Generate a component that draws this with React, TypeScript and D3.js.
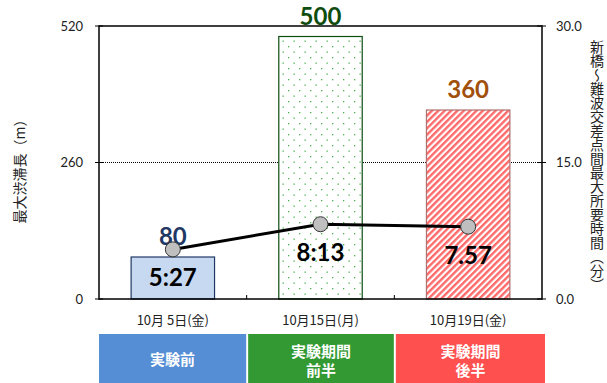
import React from "react";
import * as d3 from "d3";

const categories = ["10月 5日(金)", "10月15日(月)", "10月19日(金)"];
const jamLength = [80, 500, 360];
const jamLabels = ["80", "500", "360"];
const travelTime = [5.45, 8.2167, 7.95];
const timeLabels = ["5:27", "8:13", "7.57"];
const leftTicks = [0, 260, 520];
const rightTicks = [0, 15, 30];
const phases = [["実験前"], ["実験期間", "前半"], ["実験期間", "後半"]];

const W = 607, H = 383;
const M = { left: 99, right: 542, top: 26, bottom: 299 };
const jp = "'Noto Sans CJK JP', sans-serif";
const num = "Lato, 'Open Sans', sans-serif";

export default function App() {
  const x = d3.scaleBand<string>().domain(categories).range([M.left, M.right]).paddingInner(0).paddingOuter(0);
  const yL = d3.scaleLinear().domain([0, 520]).range([M.bottom, M.top]);
  const yR = d3.scaleLinear().domain([0, 30]).range([M.bottom, M.top]);
  const bw = x.bandwidth() * 0.565;
  const cx = (c: string) => (x(c) as number) + x.bandwidth() / 2;
  const line = d3.line<number>().x((_, i) => cx(categories[i])).y((d) => yR(d));

  const barFill = ["#C6D9F1", "url(#dots)", "url(#stripes)"];
  const barStroke = ["#203864", "#0E4D12", "#B07070"];
  const labelColor = ["#1F3864", "#0F4D0F", "#A0500A"];
  const phaseColor = ["#558ED5", "#339933", "#FF5050"];

  return (
    <svg width={W} height={H} style={{ position: "absolute", left: 0, top: 0 }}>
      <defs>
        <pattern id="dots" width="11" height="11" patternUnits="userSpaceOnUse">
          <rect width="11" height="11" fill="#fff" />
          <rect x="2" y="2" width="1.3" height="1.3" fill="#4CB04C" />
          <rect x="7.5" y="7.5" width="1.3" height="1.3" fill="#4CB04C" />
        </pattern>
        <pattern id="stripes" width="4.5" height="4.5" patternUnits="userSpaceOnUse" patternTransform="rotate(45)">
          <rect width="4.5" height="4.5" fill="#fff" />
          <rect width="2.4" height="4.5" fill="#FF6A6A" />
        </pattern>
      </defs>
      <rect width={W} height={H} fill="#fff" />
      <line x1={M.left} x2={M.right} y1={yL(260)} y2={yL(260)} stroke="#000" strokeWidth={1} strokeDasharray="1,1" />
      {categories.map((c, i) => (
        <rect key={c} x={cx(c) - bw / 2} y={yL(jamLength[i])} width={bw} height={M.bottom - yL(jamLength[i])}
          fill={barFill[i]} stroke={barStroke[i]} strokeWidth={1.2} />
      ))}
      <rect x={M.left} y={M.top} width={M.right - M.left} height={M.bottom - M.top} fill="none" stroke="#000" strokeWidth={1.5} />
      {leftTicks.map((t) => (
        <g key={"l" + t}>
          <line x1={M.left - 4} x2={M.left + 4} y1={yL(t)} y2={yL(t)} stroke="#000" />
          <text x={83} y={yL(t)} dy="0.35em" textAnchor="end" fontFamily={num} fontSize={13} fill="#222">{t}</text>
        </g>
      ))}
      {rightTicks.map((t) => (
        <g key={"r" + t}>
          <line x1={M.right - 5} x2={M.right + 4} y1={yR(t)} y2={yR(t)} stroke="#000" />
          <text x={556} y={yR(t)} dy="0.35em" textAnchor="start" fontFamily={num} fontSize={13} fill="#222">{t.toFixed(1)}</text>
        </g>
      ))}
      {[1, 2].map((i) => (
        <line key={"b" + i} x1={x(categories[i]) as number} x2={x(categories[i]) as number} y1={M.bottom} y2={M.bottom - 4} stroke="#000" />
      ))}
      {categories.map((c) => (
        <text key={"c" + c} x={cx(c)} y={320} dy="0.35em" textAnchor="middle" fontFamily={jp} fontSize={13} fill="#222">{c}</text>
      ))}
      {travelTime.length > 0 && <path d={line(travelTime) || ""} fill="none" stroke="#000" strokeWidth={3} />}
      {categories.map((c, i) => (
        <text key={"v" + c} x={cx(c)} y={yL(jamLength[i]) - 12} textAnchor="middle" fontFamily={num} fontWeight="bold" fontSize={24} fill={labelColor[i]}>{jamLabels[i]}</text>
      ))}
      {travelTime.map((v, i) => (
        <circle key={"p" + i} cx={cx(categories[i])} cy={yR(v)} r={7.5} fill="#BFBFBF" stroke="#333" strokeWidth={1} />
      ))}
      {travelTime.map((v, i) => (
        <text key={"t" + i} x={cx(categories[i])} y={yR(v) + 37} textAnchor="middle" fontFamily={num} fontWeight="bold" fontSize={24} fill="#000">{timeLabels[i]}</text>
      ))}
      <text transform={`translate(20,168) rotate(-90)`} textAnchor="middle" dy="0.35em" fontFamily={jp} fontSize={14} fill="#222">最大渋滞長（m）</text>
      <text x={597} y={40} fontFamily={jp} fontSize={14} fill="#222" style={{ writingMode: "vertical-rl" } as any}>新橋～難波交差点間最大所要時間（分）</text>
      {categories.map((c, i) => {
        const x0 = (x(c) as number) + (i === 0 ? 0 : 1.5);
        const x1 = (x(c) as number) + x.bandwidth() + (i === 2 ? 3 : -0.5);
        const lines = phases[i];
        return (
          <g key={"ph" + i}>
            <rect x={x0} y={334} width={x1 - x0} height={H - 334} fill={phaseColor[i]} />
            {lines.map((s, k) => (
              <text key={k} x={(x0 + x1) / 2} y={lines.length === 1 ? 360 : 352 + k * 19} dy="0.35em" textAnchor="middle"
                fontFamily={jp} fontWeight="bold" fontSize={15} fill="#fff">{s}</text>
            ))}
          </g>
        );
      })}
    </svg>
  );
}
